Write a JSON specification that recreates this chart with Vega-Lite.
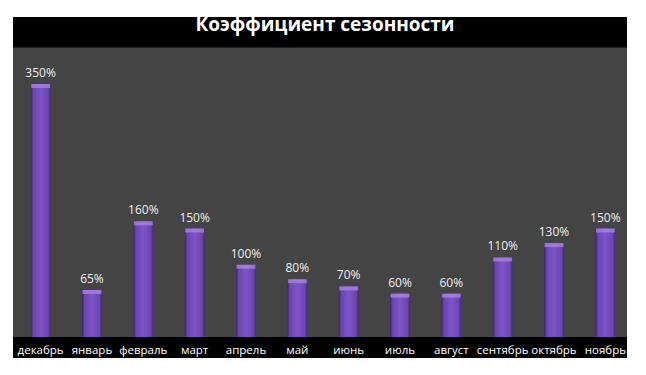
{
  "$schema": "https://vega.github.io/schema/vega-lite/v6.json",
  "width": 614,
  "height": 320,
  "autosize": {"type": "none"},
  "padding": {"left": 13, "top": 17, "right": 19, "bottom": 38},
  "background": "white",
  "view": {"fill": "black", "stroke": null},
  "data": {
    "values": [
      {"month": "декабрь", "value": 3.5},
      {"month": "январь", "value": 0.65},
      {"month": "февраль", "value": 1.6},
      {"month": "март", "value": 1.5},
      {"month": "апрель", "value": 1.0},
      {"month": "май", "value": 0.8},
      {"month": "июнь", "value": 0.7},
      {"month": "июль", "value": 0.6},
      {"month": "август", "value": 0.6},
      {"month": "сентябрь", "value": 1.1},
      {"month": "октябрь", "value": 1.3},
      {"month": "ноябрь", "value": 1.5}
    ]
  },
  "encoding": {
    "x": {
      "field": "month",
      "type": "nominal",
      "sort": null,
      "scale": {"paddingInner": 0.62, "paddingOuter": 0.29, "align": 0.6},
      "axis": {
        "title": null,
        "labelAngle": 0,
        "labelColor": "white",
        "labelFont": "Open Sans",
        "labelFontSize": 11.5,
        "labelBaseline": "alphabetic",
        "labelPadding": 16.5,
        "ticks": false,
        "domain": false,
        "labelOverlap": false,
        "zindex": 2
      }
    }
  },
  "layer": [
    {
      "data": {"values": [{"band": "plot"}]},
      "mark": {"type": "rect", "color": "#444444"},
      "encoding": {
        "x": null,
        "y": {"datum": 0, "type": "quantitative", "scale": {"domain": [0, 4.427], "nice": false, "zero": true}, "axis": null},
        "y2": {"datum": 4.005}
      }
    },
    {
      "data": {"values": [{"band": "axis"}]},
      "mark": {"type": "rect", "color": "black"},
      "encoding": {
        "x": null,
        "y": {"datum": 0, "type": "quantitative"},
        "y2": {"datum": -0.2905}
      }
    },
    {
      "mark": {
        "type": "bar",
        "color": {
          "gradient": "linear",
          "x1": 0, "x2": 1, "y1": 0, "y2": 0,
          "stops": [
            {"offset": 0, "color": "#3a2168"},
            {"offset": 0.12, "color": "#6a44b2"},
            {"offset": 0.5, "color": "#7e54c8"},
            {"offset": 0.88, "color": "#6c45b2"},
            {"offset": 1, "color": "#45287c"}
          ]
        }
      },
      "encoding": {
        "y": {"field": "value", "type": "quantitative"}
      }
    },
    {
      "mark": {"type": "tick", "orient": "horizontal", "thickness": 4, "size": 19, "color": "#b08ae6", "yOffset": 2},
      "encoding": {
        "y": {"field": "value", "type": "quantitative"}
      }
    },
    {
      "mark": {"type": "text", "baseline": "alphabetic", "dy": -7, "font": "Open Sans", "fontSize": 12, "color": "#eeeeee"},
      "encoding": {
        "y": {"field": "value", "type": "quantitative"},
        "text": {"field": "value", "type": "quantitative", "format": ".0%"}
      }
    },
    {
      "data": {"values": [{"title": "Коэффициент сезонности"}]},
      "mark": {"type": "text", "baseline": "alphabetic", "align": "center", "dx": 5, "font": "Open Sans", "fontSize": 19, "fontWeight": "bold", "color": "white"},
      "encoding": {
        "x": null,
        "y": {"datum": 4.233, "type": "quantitative"},
        "text": {"field": "title", "type": "nominal"}
      }
    }
  ],
  "resolve": {"scale": {"y": "shared"}}
}
